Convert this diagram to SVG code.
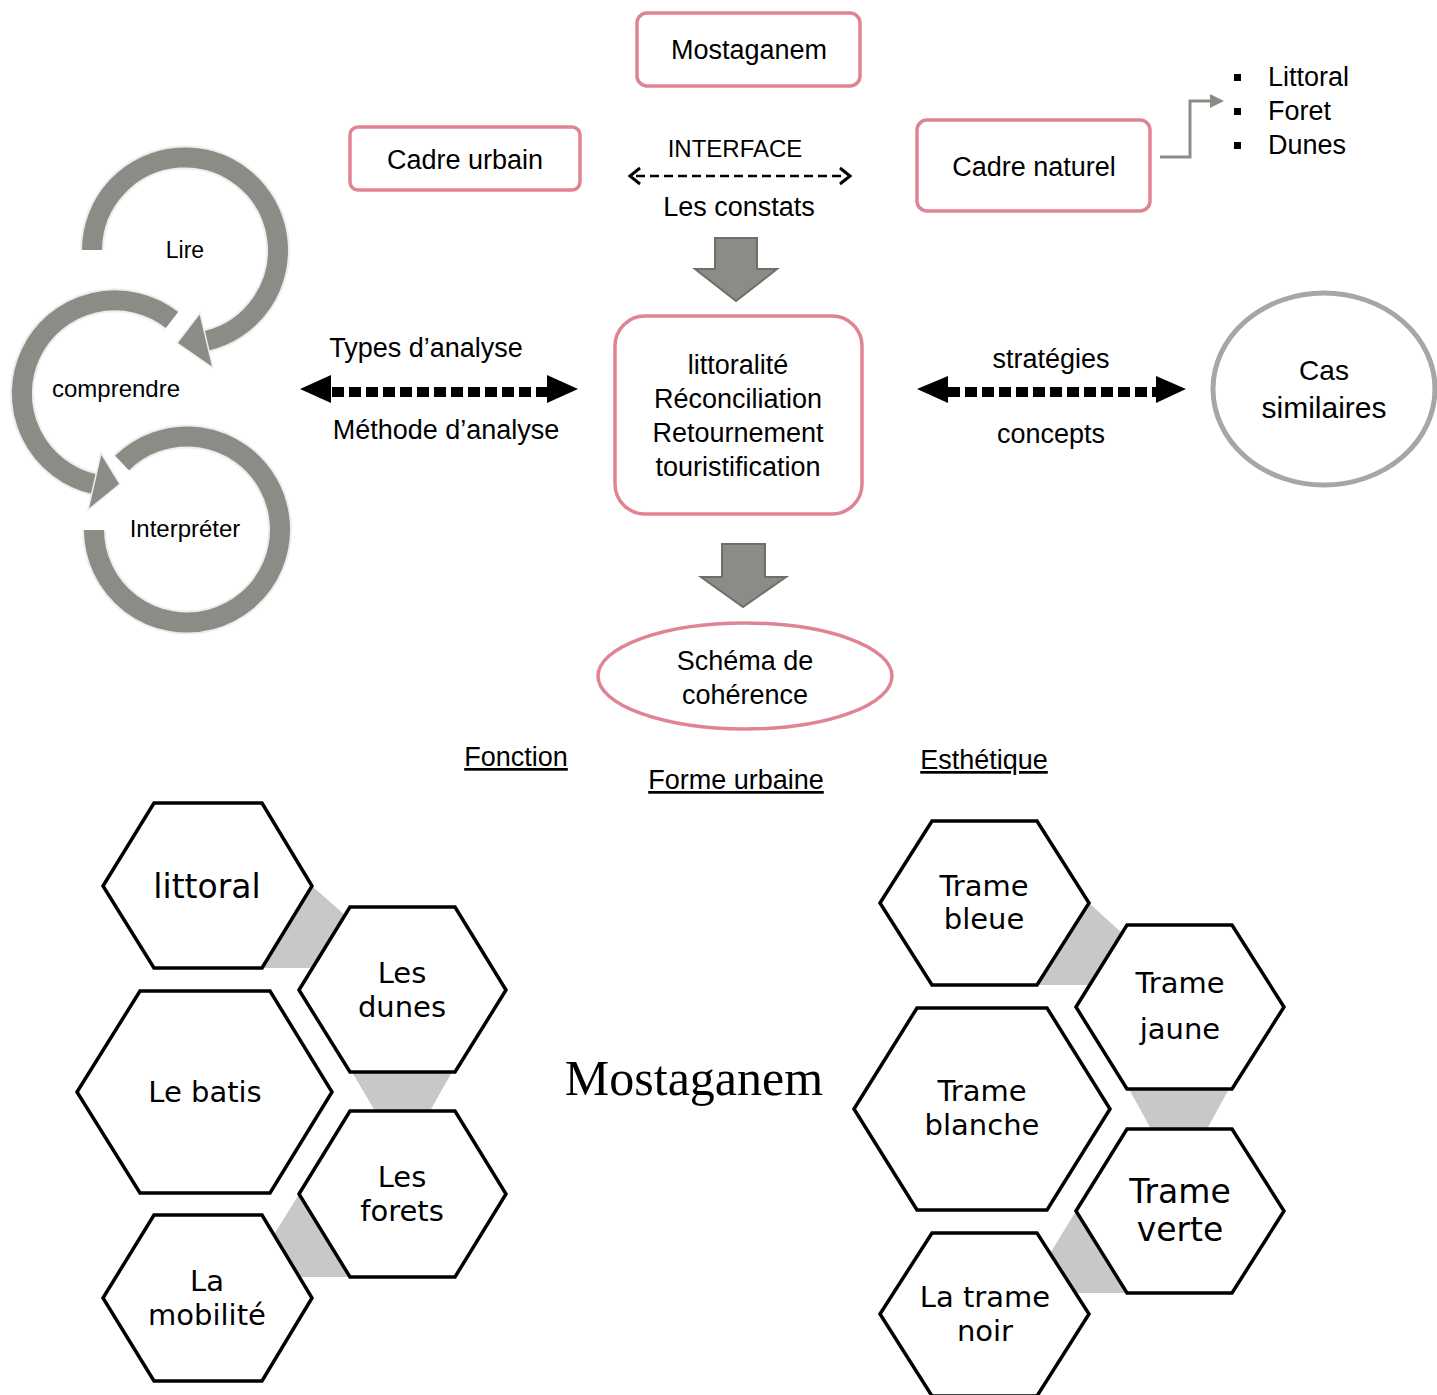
<svg xmlns="http://www.w3.org/2000/svg" width="1437" height="1395" viewBox="0 0 1437 1395">
<style>
.t{font-family:"Liberation Sans",Arial,sans-serif;font-size:27px;fill:#000;text-anchor:middle}
.h{font-family:"DejaVu Sans",sans-serif;font-size:29px;fill:#000;text-anchor:middle}
.pink{fill:#fff;stroke:#DF8494;stroke-width:3.5}
.hex{fill:#fff;stroke:#000;stroke-width:3.5;stroke-linejoin:miter}
.gl{fill:#C8C8C8}
.halo{fill:none;stroke:#EDEDED;stroke-width:24}
.ring{fill:none;stroke:#8B8C86;stroke-width:20}
.rh{fill:#8B8C86;stroke:#EDEDED;stroke-width:1.5}
.blk{fill:#8B8C86;stroke:#6E6F6A;stroke-width:2}
</style>
<rect width="1437" height="1395" fill="#fff"/>

<g id="cycle">
<path class="halo" d="M 92 250 A 93 93 0 1 1 206 341"/>
<path class="halo" d="M 172 320 A 93 93 0 1 0 94 484"/>
<path class="halo" d="M 122 463 A 93 93 0 1 1 94 530"/>
<path class="ring" d="M 92 250 A 93 93 0 1 1 206 341"/>
<polygon class="rh" points="200,313 213,368 177,343"/>
<path class="ring" d="M 172 320 A 93 93 0 1 0 94 484"/>
<polygon class="rh" points="101,453 88,510 120,484"/>
<path class="ring" d="M 122 463 A 93 93 0 1 1 94 530"/>
<text class="t" style="font-size:23px" x="185" y="258">Lire</text>
<text class="t" style="font-size:24px" x="116" y="397">comprendre</text>
<text class="t" style="font-size:24px" x="185" y="537">Interpréter</text>
</g>

<g id="connectors">
<line x1="636" y1="176" x2="843" y2="176" stroke="#000" stroke-width="2.5" stroke-dasharray="9 5"/>
<polyline points="640,168 630,176 640,184" fill="none" stroke="#000" stroke-width="3"/>
<polyline points="840,168 850,176 840,184" fill="none" stroke="#000" stroke-width="3"/>
<polygon class="blk" points="715,238 757,238 757,269 777,269 736,301 695,269 715,269"/>
<polygon class="blk" points="722,544 765,544 765,577 786,577 743,607 701,577 722,577"/>
<line x1="332" y1="392" x2="548" y2="392" stroke="#000" stroke-width="10" stroke-dasharray="12 5"/>
<polygon points="300,389 331,375 331,403" fill="#000"/>
<polygon points="578,389 547,375 547,403" fill="#000"/>
<line x1="948" y1="392" x2="1157" y2="392" stroke="#000" stroke-width="10" stroke-dasharray="12 5"/>
<polygon points="917,389 948,376 948,403" fill="#000"/>
<polygon points="1186,389 1156,376 1156,403" fill="#000"/>
<polyline points="1160,157 1190,157 1190,101 1212,101" fill="none" stroke="#8B8C86" stroke-width="3"/>
<polygon points="1210,94 1224,101 1210,108" fill="#8B8C86"/>
</g>

<g id="n-mostaganem"><rect class="pink" x="637" y="13" width="223" height="73" rx="10"/><text class="t" x="749" y="59">Mostaganem</text></g>
<g id="n-cadre-urbain"><rect class="pink" x="350" y="127" width="230" height="63" rx="8"/><text class="t" x="465" y="169">Cadre urbain</text></g>
<g id="n-cadre-naturel"><rect class="pink" x="917" y="120" width="233" height="91" rx="10"/><text class="t" x="1034" y="176">Cadre naturel</text></g>
<g id="n-interface"><text class="t" style="font-size:24px" x="735" y="157">INTERFACE</text><text class="t" x="739" y="216">Les constats</text></g>
<g id="n-list">
<rect x="1234" y="74" width="7" height="7" fill="#000"/><text class="t" style="text-anchor:start" x="1268" y="86">Littoral</text>
<rect x="1234" y="108" width="7" height="7" fill="#000"/><text class="t" style="text-anchor:start" x="1268" y="120">Foret</text>
<rect x="1234" y="142" width="7" height="7" fill="#000"/><text class="t" style="text-anchor:start" x="1268" y="154">Dunes</text>
</g>
<g id="n-center"><rect class="pink" x="615" y="316" width="247" height="198" rx="30"/>
<text class="t" x="738" y="374">littoralité</text>
<text class="t" x="738" y="408">Réconciliation</text>
<text class="t" x="738" y="442">Retournement</text>
<text class="t" x="738" y="476">touristification</text></g>
<g id="n-types"><text class="t" x="426" y="357">Types d’analyse</text><text class="t" x="446" y="439">Méthode d’analyse</text></g>
<g id="n-strat"><text class="t" x="1051" y="368">stratégies</text><text class="t" x="1051" y="443">concepts</text></g>
<g id="n-cas"><ellipse cx="1324" cy="389" rx="111" ry="96" fill="#fff" stroke="#A6A6A6" stroke-width="5"/>
<text class="t" style="font-size:28px" x="1324" y="380">Cas</text><text class="t" style="font-size:30px" x="1324" y="418">similaires</text></g>
<g id="n-schema"><ellipse class="pink" cx="745" cy="676" rx="147" ry="53"/>
<text class="t" x="745" y="670">Schéma de</text><text class="t" x="745" y="704">cohérence</text></g>
<g id="n-labels">
<text class="t" x="516" y="766" text-decoration="underline">Fonction</text>
<text class="t" x="736" y="789" text-decoration="underline">Forme urbaine</text>
<text class="t" x="984" y="769" text-decoration="underline">Esthétique</text>
<text x="694" y="1095" style="font-family:'Liberation Serif','Times New Roman',serif;font-size:50px;text-anchor:middle">Mostaganem</text>
</g>

<g id="hex-left">
<polygon class="gl" points="312,886 346,916 312,968 262,968"/>
<polygon class="gl" points="352,1072 452,1072 430,1111 375,1111"/>
<polygon class="gl" points="299,1194 272,1238 300,1277 350,1277"/>
<g id="h-littoral"><polygon class="hex" points="103,886 154,803 262,803 312,886 262,968 154,968"/><text class="h" style="font-size:33px" x="207" y="898">littoral</text></g>
<g id="h-dunes"><polygon class="hex" points="299,990 350,907 455,907 506,990 455,1072 350,1072"/><text class="h" x="402" y="983">Les</text><text class="h" x="402" y="1017">dunes</text></g>
<g id="h-batis"><polygon class="hex" points="77,1092 140,991 270,991 332,1092 270,1193 140,1193"/><text class="h" x="205" y="1102">Le batis</text></g>
<g id="h-forets"><polygon class="hex" points="299,1194 350,1111 455,1111 506,1194 455,1277 350,1277"/><text class="h" x="402" y="1187">Les</text><text class="h" x="402" y="1221">forets</text></g>
<g id="h-mobilite"><polygon class="hex" points="103,1298 154,1215 262,1215 312,1298 262,1381 154,1381"/><text class="h" x="207" y="1291">La</text><text class="h" x="207" y="1325">mobilité</text></g>
</g>

<g id="hex-right">
<polygon class="gl" points="1089,903 1122,933 1089,985 1037,985"/>
<polygon class="gl" points="1129,1089 1229,1089 1207,1129 1151,1129"/>
<polygon class="gl" points="1076,1211 1049,1255 1076,1293 1127,1293"/>
<g id="h-bleue"><polygon class="hex" points="880,903 932,821 1037,821 1089,903 1037,985 932,985"/><text class="h" x="984" y="896">Trame</text><text class="h" x="984" y="929">bleue</text></g>
<g id="h-jaune"><polygon class="hex" points="1076,1007 1127,925 1232,925 1284,1007 1232,1089 1127,1089"/><text class="h" x="1180" y="993">Trame</text><text class="h" x="1180" y="1039">jaune</text></g>
<g id="h-blanche"><polygon class="hex" points="854,1109 917,1008 1047,1008 1110,1109 1047,1210 917,1210"/><text class="h" x="982" y="1101">Trame</text><text class="h" x="982" y="1135">blanche</text></g>
<g id="h-verte"><polygon class="hex" points="1076,1211 1127,1129 1232,1129 1284,1211 1232,1293 1127,1293"/><text class="h" style="font-size:33px" x="1180" y="1203">Trame</text><text class="h" style="font-size:33px" x="1180" y="1241">verte</text></g>
<g id="h-noir"><polygon class="hex" points="880,1314 932,1233 1037,1233 1089,1314 1037,1396 932,1396"/><text class="h" x="985" y="1307">La trame</text><text class="h" x="985" y="1341">noir</text></g>
</g>
</svg>
